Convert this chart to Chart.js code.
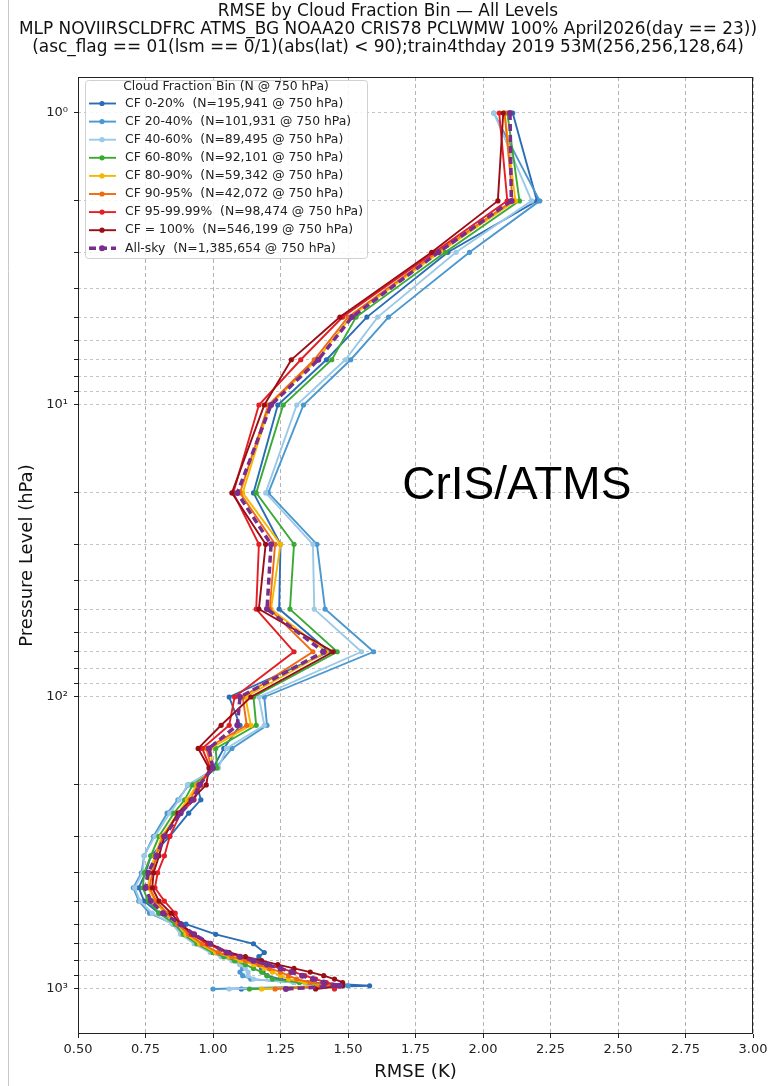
<!DOCTYPE html>
<html>
<head>
<meta charset="utf-8">
<script src="https://cdn.jsdelivr.net/npm/chart.js@4.4.1/dist/chart.umd.min.js"></script>
<style>
  html, body { margin: 0; padding: 0; background: #fff; }
  #wrap { width: 776px; height: 1086px; }
</style>
</head>
<body>
<div id="wrap"><canvas id="c" width="776" height="1086"></canvas></div>
<script>
// pressure levels (hPa)
var levels = [1, 2, 3, 5, 7, 10, 20, 30, 50, 70, 100, 125, 150, 175, 200, 225, 250, 300, 350, 400,
  450, 500, 550, 600, 650, 700, 750, 775, 800, 825, 850, 875, 900, 925, 950, 975, 1000];

// RMSE (K) per cloud fraction bin
var cf0_20 = [2.11, 2.20, 1.87, 1.57, 1.42, 1.24, 1.15, 1.25, 1.245, 1.43, 1.06, 1.10, 1.04, 1.00, 0.94, 0.955, 0.91, 0.84, 0.77, 0.75,
  0.725, 0.745, 0.80, 0.90, 1.01, 1.15, 1.19, 1.17, 1.165, 1.17, 1.18, 1.185, 1.20, 1.25, 1.35, 1.58, 1.105];
var cf20_40 = [2.04, 2.21, 1.95, 1.65, 1.51, 1.335, 1.205, 1.385, 1.415, 1.595, 1.19, 1.20, 1.07, 1.01, 0.91, 0.87, 0.83, 0.78, 0.745, 0.735,
  0.705, 0.725, 0.765, 0.855, 0.89, 0.94, 1.00, 1.04, 1.08, 1.10, 1.11, 1.10, 1.11, 1.14, 1.30, 1.50, 1.00];
var cf40_60 = [2.04, 2.18, 1.90, 1.61, 1.49, 1.31, 1.195, 1.37, 1.375, 1.55, 1.17, 1.19, 1.05, 1.02, 0.905, 0.875, 0.84, 0.785, 0.745, 0.74,
  0.71, 0.73, 0.775, 0.85, 0.88, 0.93, 0.99, 1.03, 1.07, 1.10, 1.12, 1.13, 1.13, 1.15, 1.30, 1.45, 1.06];
var cf60_80 = [2.09, 2.135, 1.86, 1.53, 1.44, 1.26, 1.16, 1.30, 1.285, 1.46, 1.15, 1.16, 1.01, 1.015, 0.925, 0.895, 0.855, 0.80, 0.77, 0.745,
  0.74, 0.76, 0.80, 0.86, 0.89, 0.94, 1.00, 1.04, 1.08, 1.12, 1.15, 1.18, 1.20, 1.22, 1.32, 1.45, 1.135];
var cf80_90 = [2.08, 2.12, 1.84, 1.51, 1.385, 1.21, 1.11, 1.25, 1.215, 1.42, 1.12, 1.14, 0.99, 1.00, 0.94, 0.905, 0.87, 0.81, 0.785, 0.765,
  0.76, 0.785, 0.82, 0.87, 0.90, 0.95, 1.01, 1.06, 1.10, 1.15, 1.19, 1.22, 1.25, 1.28, 1.34, 1.44, 1.18];
var cf90_95 = [2.08, 2.11, 1.83, 1.50, 1.375, 1.205, 1.10, 1.23, 1.21, 1.37, 1.11, 1.125, 0.975, 0.995, 0.945, 0.915, 0.875, 0.815, 0.79, 0.775,
  0.765, 0.79, 0.83, 0.87, 0.91, 0.96, 1.02, 1.07, 1.12, 1.17, 1.21, 1.25, 1.28, 1.31, 1.36, 1.45, 1.23];
var cf95_9999 = [2.06, 2.09, 1.82, 1.48, 1.325, 1.17, 1.075, 1.17, 1.16, 1.30, 1.08, 1.06, 0.96, 0.99, 0.955, 0.93, 0.88, 0.84, 0.82, 0.795,
  0.785, 0.82, 0.86, 0.88, 0.92, 0.98, 1.05, 1.10, 1.15, 1.20, 1.25, 1.30, 1.34, 1.38, 1.42, 1.47, 1.45];
var cf100 = [2.075, 2.055, 1.81, 1.47, 1.29, 1.19, 1.07, 1.195, 1.17, 1.445, 1.14, 1.03, 0.945, 0.985, 0.975, 0.92, 0.87, 0.82, 0.80, 0.78,
  0.775, 0.80, 0.845, 0.88, 0.93, 0.99, 1.06, 1.12, 1.18, 1.24, 1.30, 1.36, 1.41, 1.45, 1.48, 1.48, 1.38];
var allSky = [2.10, 2.105, 1.835, 1.515, 1.39, 1.215, 1.09, 1.215, 1.20, 1.41, 1.10, 1.09, 0.985, 1.00, 0.95, 0.925, 0.88, 0.82, 0.79, 0.76,
  0.75, 0.77, 0.815, 0.88, 0.93, 0.99, 1.05, 1.10, 1.15, 1.20, 1.25, 1.29, 1.33, 1.37, 1.41, 1.47, 1.27];

var seriesLabels = [
  "CF 0-20%  (N=195,941 @ 750 hPa)",
  "CF 20-40%  (N=101,931 @ 750 hPa)",
  "CF 40-60%  (N=89,495 @ 750 hPa)",
  "CF 60-80%  (N=92,101 @ 750 hPa)",
  "CF 80-90%  (N=59,342 @ 750 hPa)",
  "CF 90-95%  (N=42,072 @ 750 hPa)",
  "CF 95-99.99%  (N=98,474 @ 750 hPa)",
  "CF = 100%  (N=546,199 @ 750 hPa)",
  "All-sky  (N=1,385,654 @ 750 hPa)"
];
var seriesColors = ["#2a6db5", "#4a98cf", "#9cc9e6", "#3aaa35", "#f5b800", "#f06a10", "#e31f26", "#9b0d14", "#7b2d8e"];
var seriesValues = [cf0_20, cf20_40, cf40_60, cf60_80, cf80_90, cf90_95, cf95_9999, cf100, allSky];

var xTicks = [0.5, 0.75, 1.0, 1.25, 1.5, 1.75, 2.0, 2.25, 2.5, 2.75, 3.0];
var decadeLabels = { 1: "10\u2070", 10: "10\u00b9", 100: "10\u00b2", 1000: "10\u00b3" };

var titleLines = [
  "RMSE by Cloud Fraction Bin \u2014 All Levels",
  "MLP NOVIIRSCLDFRC ATMS_BG NOAA20 CRIS78 PCLWMW 100% April2026(day == 23))",
  "(asc_flag == 01(lsm == 0/1)(abs(lat) < 90);train4thday 2019 53M(256,256,128,64)"
];
var legendTitle = "Cloud Fraction Bin (N @ 750 hPa)";
var noteText = "CrIS/ATMS";

// log grid: 1..9 in every decade
var yGrid = [];
[1, 10, 100, 1000].forEach(function (d) {
  for (var k = 1; k <= 9; k++) {
    if (d * k <= 1426) yGrid.push(d * k);
  }
});

var datasets = seriesValues.map(function (vals, i) {
  var isAll = (i == 8);
  return {
    label: seriesLabels[i],
    data: vals.map(function (v, j) { return { x: v, y: levels[j] }; }),
    showLine: true,
    borderColor: seriesColors[i],
    backgroundColor: seriesColors[i],
    borderWidth: isAll ? 3.5 : 1.9,
    borderDash: isAll ? [7, 4] : [],
    pointRadius: isAll ? 3 : 2.6,
    pointBorderWidth: 0,
    pointHoverRadius: 3,
    order: 8 - i
  };
});

var FONT = "'DejaVu Sans', sans-serif";

var decorPlugin = {
  id: "decor",
  afterDraw: function (chart) {
    var ctx = chart.ctx;
    var a = chart.chartArea;
    ctx.save();

    // outer screenshot border
    ctx.strokeStyle = "#c8c8c8";
    ctx.lineWidth = 1;
    ctx.beginPath();
    ctx.moveTo(8.5, 0);
    ctx.lineTo(8.5, 1086);
    ctx.stroke();

    // spines
    ctx.strokeStyle = "#222";
    ctx.lineWidth = 1;
    ctx.strokeRect(a.left + 0.5, a.top + 0.5, a.right - a.left - 1, a.bottom - a.top - 1);

    // annotation
    var xs = chart.scales.x, ys = chart.scales.y;
    ctx.fillStyle = "#000";
    ctx.font = "46px 'Liberation Sans', Arial, sans-serif";
    ctx.textAlign = "center";
    ctx.textBaseline = "middle";
    ctx.fillText(noteText, xs.getPixelForValue(2.125), ys.getPixelForValue(19));

    // title
    ctx.font = "17px " + FONT;
    ctx.fillStyle = "#111";
    var sx = 738 / ctx.measureText(titleLines[1]).width;
    titleLines.forEach(function (t, i) {
      ctx.save();
      ctx.translate(388, 12 + i * 18);
      ctx.scale(sx, 1);
      ctx.fillText(t, 0, 0);
      ctx.restore();
    });

    // axis titles
    ctx.font = "18px " + FONT;
    ctx.fillText("RMSE (K)", (a.left + a.right) / 2, 1072);
    ctx.save();
    ctx.translate(27, (a.top + a.bottom) / 2);
    ctx.rotate(-Math.PI / 2);
    ctx.fillText("Pressure Level (hPa)", 0, 0);
    ctx.restore();

    // legend
    var lx = 85, ly = 80, lw = 282, lh = 178;
    ctx.fillStyle = "rgba(255,255,255,0.85)";
    ctx.strokeStyle = "#d0d0d0";
    ctx.beginPath();
    ctx.roundRect(lx + 0.5, ly + 0.5, lw, lh, 3);
    ctx.fill();
    ctx.stroke();
    ctx.fillStyle = "#222";
    ctx.font = "12.4px " + FONT;
    ctx.textAlign = "center";
    ctx.fillText(legendTitle, lx + lw / 2, 87);
    ctx.textAlign = "left";
    chart.data.datasets.forEach(function (ds, i) {
      var yy = 103.5 + i * 18.1;
      ctx.strokeStyle = ds.borderColor;
      ctx.lineWidth = ds.borderWidth;
      ctx.setLineDash(ds.borderDash);
      ctx.beginPath();
      ctx.moveTo(89, yy);
      ctx.lineTo(116, yy);
      ctx.stroke();
      ctx.setLineDash([]);
      ctx.fillStyle = ds.borderColor;
      ctx.beginPath();
      ctx.arc(102, yy, ds.pointRadius, 0, Math.PI * 2);
      ctx.fill();
      ctx.fillStyle = "#222";
      ctx.fillText(ds.label, 125, yy);
    });
    ctx.restore();
  }
};

new Chart(document.getElementById("c"), {
  type: "scatter",
  data: { datasets: datasets },
  options: {
    responsive: false,
    animation: false,
    layout: { padding: { top: 77, right: 23, left: 0, bottom: 0 } },
    plugins: {
      legend: { display: false },
      title: { display: false },
      tooltip: { enabled: false }
    },
    scales: {
      x: {
        type: "linear",
        min: 0.5,
        max: 3.0,
        afterFit: function (s) { s.height = 52; },
        afterBuildTicks: function (s) { s.ticks = xTicks.map(function (v) { return { value: v }; }); },
        ticks: {
          font: { family: FONT, size: 13 },
          color: "#222",
          padding: 4,
          maxRotation: 0,
          autoSkip: false,
          callback: function (v) { return Number(v).toFixed(2); }
        },
        grid: { color: "#b4b4b4", lineWidth: 1, tickLength: 4, tickColor: "#222", tickBorderDash: [] },
        border: { display: false, dash: [4, 3] }
      },
      y: {
        type: "logarithmic",
        reverse: true,
        min: 0.753,
        max: 1426,
        afterFit: function (s) { s.width = 78; },
        afterBuildTicks: function (s) { s.ticks = yGrid.map(function (v) { return { value: v }; }); },
        ticks: {
          font: { family: FONT, size: 13 },
          color: "#222",
          padding: 6,
          autoSkip: false,
          callback: function (v) { return decadeLabels[v] || ""; }
        },
        grid: { color: "#c4c4c4", lineWidth: 1, tickLength: 4, tickColor: "#222", tickBorderDash: [] },
        border: { display: false, dash: [3, 3] }
      }
    }
  },
  plugins: [decorPlugin]
});
</script>
</body>
</html>
